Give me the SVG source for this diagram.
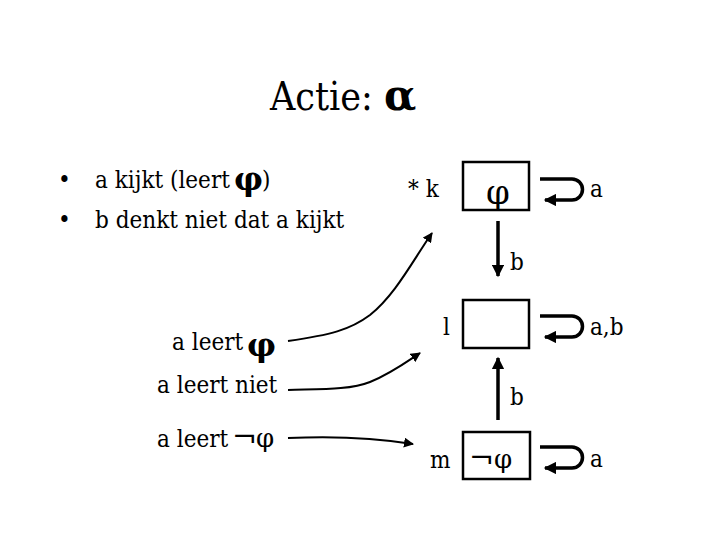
<svg xmlns="http://www.w3.org/2000/svg" width="720" height="540" viewBox="0 0 720 540">
<style>
.tx{font-family:"DejaVu Serif Condensed","DejaVu Serif",serif;font-size:24px;fill:#000}
.gr{font-family:"DejaVu Serif",serif;fill:#000}
.box{fill:none;stroke:#000;stroke-width:2.5}
.c{fill:none;stroke:#000;stroke-width:2}
.loop{fill:none;stroke:#000;stroke-width:3.5}
</style>
<defs>
<marker id="ah" viewBox="0 0 10 10" refX="9" refY="5" markerWidth="5" markerHeight="5" orient="auto" markerUnits="strokeWidth"><path d="M0,0 L10,5 L0,10 Z" fill="#000"/></marker>
<marker id="ahb" viewBox="0 0 10 10" refX="9" refY="5" markerWidth="4" markerHeight="3.5" orient="auto" markerUnits="strokeWidth"><path d="M0,0 L10,5 L0,10 Z" fill="#000"/></marker>
</defs>
<g id="title"><text class="tx" x="270" y="110" style="font-size:39px">Actie:</text><text class="gr" x="384" y="110" font-size="42" font-weight="bold">α</text></g>
<g id="bullets">
<text class="tx" x="58" y="188">•</text><text class="tx" x="95" y="188">a kijkt (leert</text><text class="gr" x="234" y="190" font-size="32" font-weight="bold">φ</text><text class="tx" x="262" y="188">)</text>
<text class="tx" x="58" y="228">•</text><text class="tx" x="95" y="228">b denkt niet dat a kijkt</text>
</g>
<g id="node-k">
<rect class="box" x="463" y="162" width="66" height="48"/>
<text class="tx" x="408" y="197">* k</text>
<text class="gr" x="486" y="204" font-size="34">φ</text>
<text class="tx" x="590" y="197">a</text>
</g>
<g id="node-l">
<rect class="box" x="463" y="300" width="66" height="48"/>
<text class="tx" x="443" y="335">l</text>
<text class="tx" x="590" y="335">a,b</text>
</g>
<g id="node-m">
<rect class="box" x="463" y="432" width="67" height="47"/>
<text class="tx" x="430" y="468">m</text>
<text class="gr" x="469" y="468" font-size="30">¬</text><text class="gr" x="494" y="468" font-size="26">φ</text>
<text class="tx" x="590" y="467">a</text>
</g>
<g id="labels">
<text class="tx" x="172" y="350">a leert</text><text class="gr" x="247" y="356" font-size="32" font-weight="bold">φ</text>
<text class="tx" x="157" y="393">a leert niet</text>
<text class="tx" x="157" y="447">a leert</text><text class="gr" x="232" y="447" font-size="30">¬</text><text class="gr" x="256" y="447" font-size="26">φ</text>
</g>
<g id="edge-labels">
<text class="tx" x="510" y="270">b</text>
<text class="tx" x="510" y="405">b</text>
</g>
<g id="connectors">
<path class="loop" d="M540,179 H572 A10.5,10.5 0 0 1 572,200 H545" marker-end="url(#ahb)"/>
<path class="loop" d="M540,316 H572 A10.5,10.5 0 0 1 572,337 H545" marker-end="url(#ahb)"/>
<path class="loop" d="M540,447 H572 A10.5,10.5 0 0 1 572,468 H545" marker-end="url(#ahb)"/>
<line class="loop" x1="498" y1="221" x2="498" y2="276" marker-end="url(#ahb)"/>
<line class="loop" x1="498" y1="420" x2="498" y2="358" marker-end="url(#ahb)"/>
<path class="c" d="M288,341 C330,335 350,330 370,315 C395,295 412,262 432,233" marker-end="url(#ah)"/>
<path class="c" d="M288,390 C320,389 350,390 370,382 C390,374 405,363 420,353" marker-end="url(#ah)"/>
<path class="c" d="M288,438 C330,436 370,437 413,444" marker-end="url(#ah)"/>
</g>
</svg>
